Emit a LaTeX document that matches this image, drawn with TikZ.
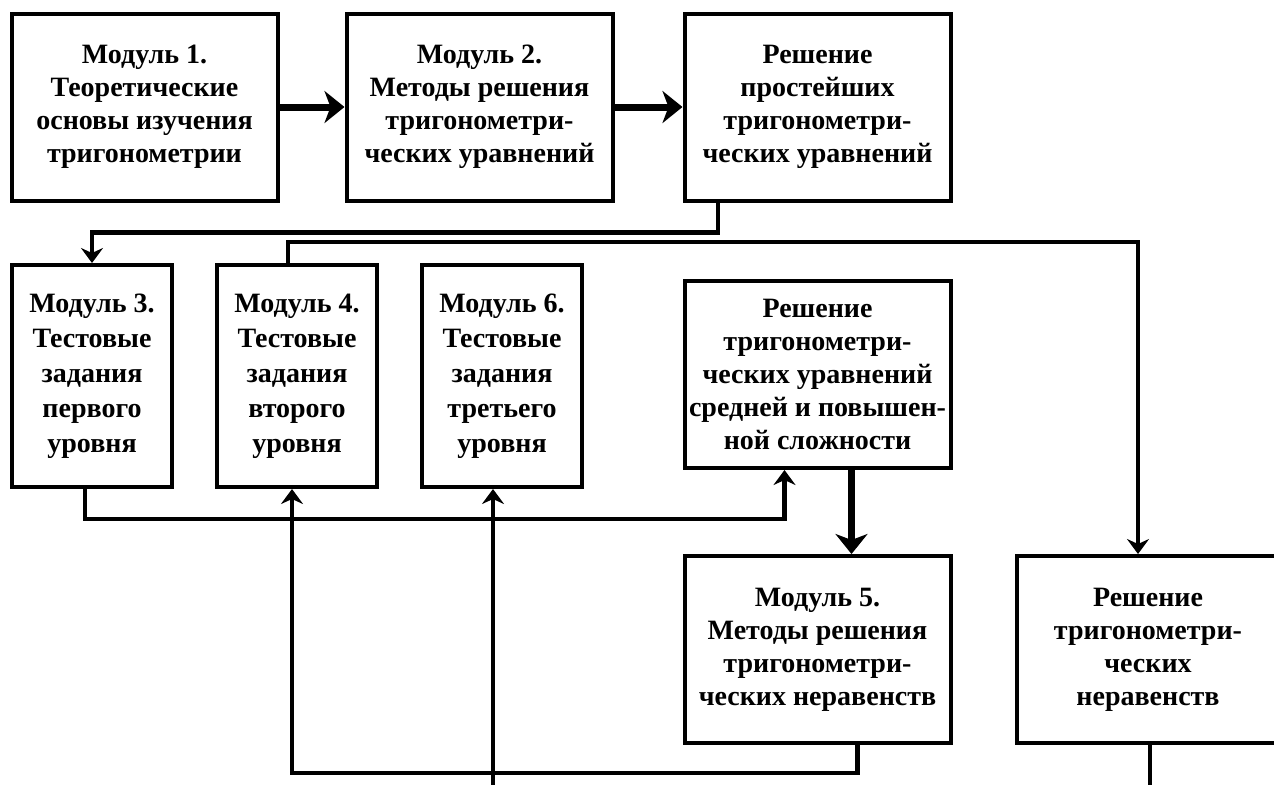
\documentclass[tikz,border=0pt]{standalone}
\usepackage{fontspec}
\setmainfont{Liberation Serif}
\usetikzlibrary{arrows.meta}

\begin{document}
\begin{tikzpicture}[x=0.5pt,y=-0.5pt]
    \tikzset{
        module/.style={draw, line width=2pt, align=center, inner sep=0pt,
            font=\bfseries\fontsize{14}{16.5}\selectfont},
        wide/.style={module, minimum width=133pt, minimum height=93.5pt},
        narrow/.style={module, minimum width=80pt, minimum height=111pt,
            font=\bfseries\fontsize{14}{17.5}\selectfont},
        link/.style={line width=2.2pt, -{Stealth[length=7.5pt,width=11pt,inset=2.5pt]}},
        bold link/.style={line width=3.5pt, -{Stealth[length=10pt,width=16pt,inset=3pt]}}
    }
    \useasboundingbox (0,0) rectangle (1274,784);
    \clip (0,0) rectangle (1274,784);

    \draw node[wide] (m1) at (144.5,107) {Модуль 1.\\Теоретические\\основы изучения\\тригонометрии};
    \draw node[wide] (m2) at (479.5,107) {Модуль 2.\\Методы решения\\тригонометри-\\ческих уравнений};
    \draw node[wide] (prost) at (817.5,107) {Решение\\простейших\\тригонометри-\\ческих уравнений};

    \draw node[narrow] (m3) at (92,376) {Модуль 3.\\Тестовые\\задания\\первого\\уровня};
    \draw node[narrow] (m4) at (297,376) {Модуль 4.\\Тестовые\\задания\\второго\\уровня};
    \draw node[narrow] (m6) at (502,376) {Модуль 6.\\Тестовые\\задания\\третьего\\уровня};
    \draw node[wide] (sred) at (817.5,374.5) {Решение\\тригонометри-\\ческих уравнений\\средней и повышен-\\ной сложности};

    \draw node[wide] (m5) at (817.5,649.5) {Модуль 5.\\Методы решения\\тригонометри-\\ческих неравенств};
    \draw node[wide, minimum width=131pt] (nerav) at (1148,649.5) {Решение\\тригонометри-\\ческих\\неравенств};

    \foreach \x/\y in {m1/m2,m2/prost}{
        \draw (\x) edge[bold link] (\y);
    }
    \draw[bold link] ([xshift=17pt]sred.south) -- ([xshift=17pt]m5.north);

    \draw[link] ([xshift=-49.75pt]prost.south) -- ++(0,30) -| (m3.north);
    \draw[link] ([xshift=-4.5pt]m4.north) -- ++(0,-21) -| ([xshift=-5pt]nerav.north);
    \draw[link] ([xshift=-3.5pt]m3.south) -- ++(0,30) -| ([xshift=-16.5pt]sred.south);
    \draw[link] ([xshift=20pt]m5.south) -- ++(0,28) -| ([xshift=-2.5pt]m4.south);
    \draw[link] ([xshift=1pt]nerav.south) -- ++(0,60) -| ([xshift=-4.5pt]m6.south);
\end{tikzpicture}
\end{document}
